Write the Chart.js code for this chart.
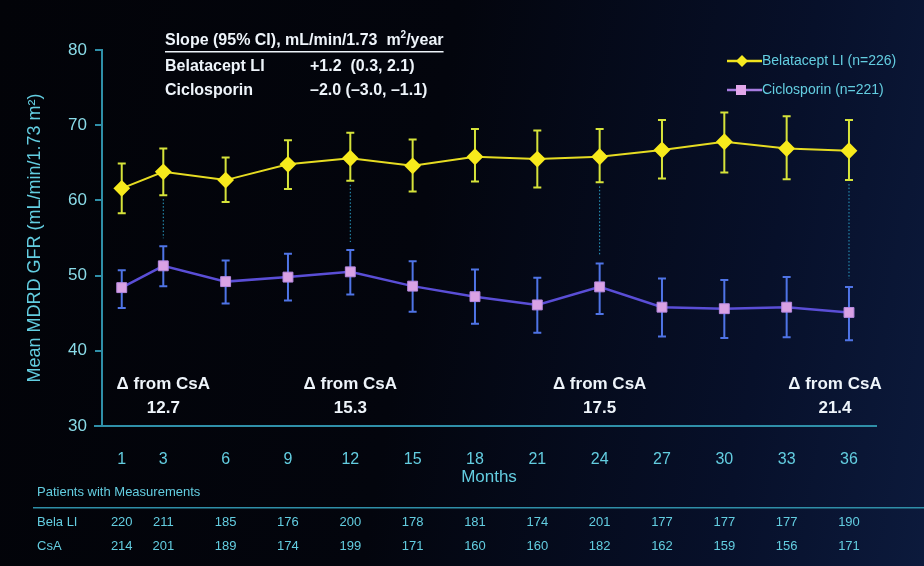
<!DOCTYPE html>
<html>
<head>
<meta charset="utf-8">
<script src="https://cdn.jsdelivr.net/npm/chart.js@4.4.1/dist/chart.umd.min.js"></script>
<style>
  html, body { margin: 0; padding: 0; }
  body {
    width: 924px; height: 566px; overflow: hidden;
    background: linear-gradient(100deg, #020308 0%, #03050d 45%, #07102a 80%, #0c1a3c 100%);
  }
  #wrap { position: relative; width: 924px; height: 566px; }
</style>
</head>
<body>
<div id="wrap"><canvas id="chart" width="924" height="566"></canvas></div>
<script>
// data
const months = [1, 3, 6, 9, 12, 15, 18, 21, 24, 27, 30, 33, 36];
const belaMean = [61.6, 63.8, 62.7, 64.8, 65.6, 64.6, 65.8, 65.5, 65.8, 66.7, 67.8, 66.9, 66.6];
const belaHigh = [64.9, 66.9, 65.7, 68.0, 69.0, 68.1, 69.5, 69.3, 69.5, 70.7, 71.7, 71.2, 70.7];
const belaLow = [58.3, 60.7, 59.8, 61.5, 62.6, 61.2, 62.5, 61.7, 62.4, 62.9, 63.7, 62.8, 62.7];
const csaMean = [48.4, 51.3, 49.2, 49.8, 50.5, 48.6, 47.2, 46.1, 48.5, 45.8, 45.6, 45.8, 45.1];
const csaHigh = [50.7, 53.9, 52.0, 52.9, 53.4, 51.9, 50.8, 49.7, 51.6, 49.6, 49.4, 49.8, 48.5];
const csaLow = [45.7, 48.6, 46.3, 46.7, 47.5, 45.2, 43.6, 42.4, 44.9, 41.9, 41.7, 41.8, 41.4];
const deltaMonths = [3, 12, 24, 36];
const deltaValues = ["12.7", "15.3", "17.5", "21.4"];
const belaPatients = [220, 211, 185, 176, 200, 178, 181, 174, 201, 177, 177, 177, 190];
const csaPatients = [214, 201, 189, 174, 199, 171, 160, 160, 182, 162, 159, 156, 171];
const yTicks = [30, 40, 50, 60, 70, 80];

const teal = "#2f8fa8";
const cyanText = "#63cde0";
const font = "'Liberation Sans', Arial, sans-serif";

function pts(vals) {
  return months.map((m, i) => ({ x: m, y: vals[i] }));
}

// error bars + dotted connectors, drawn under the points
const errorBars = {
  id: "errorBars",
  beforeDatasetsDraw(chart) {
    const ctx = chart.ctx;
    const xs = chart.scales.x, ys = chart.scales.y;
    ctx.save();
    // dotted connectors between the two curves
    ctx.strokeStyle = "#2aa0c8";
    ctx.lineWidth = 1;
    ctx.setLineDash([1.5, 2]);
    deltaMonths.forEach((m) => {
      const i = months.indexOf(m);
      const x = xs.getPixelForValue(m);
      ctx.beginPath();
      ctx.moveTo(x, ys.getPixelForValue(belaLow[i]) + 4);
      ctx.lineTo(x, ys.getPixelForValue(csaHigh[i]) - 8);
      ctx.stroke();
    });
    ctx.setLineDash([]);
    const sets = [
      [belaHigh, belaLow, "#d6e33a"],
      [csaHigh, csaLow, "#4f74e6"],
    ];
    sets.forEach(([hi, lo, col]) => {
      ctx.strokeStyle = col;
      ctx.lineWidth = 2;
      months.forEach((m, i) => {
        const x = xs.getPixelForValue(m);
        const y1 = ys.getPixelForValue(hi[i]);
        const y2 = ys.getPixelForValue(lo[i]);
        ctx.beginPath();
        ctx.moveTo(x, y1); ctx.lineTo(x, y2);
        ctx.moveTo(x - 4, y1); ctx.lineTo(x + 4, y1);
        ctx.moveTo(x - 4, y2); ctx.lineTo(x + 4, y2);
        ctx.stroke();
      });
    });
    ctx.restore();
  },
};

// slide texts: slope box, legend, delta notes, patients table
const slideText = {
  id: "slideText",
  afterDraw(chart) {
    const ctx = chart.ctx;
    const xs = chart.scales.x;
    ctx.save();
    ctx.textBaseline = "middle";

    // x axis line runs a little left of the y axis, as on the slide
    ctx.fillStyle = teal;
    ctx.fillRect(94, chart.chartArea.bottom - 1, 9, 2);

    // slope box
    ctx.fillStyle = "#eef4fa";
    ctx.font = "bold 16px " + font;
    ctx.textAlign = "left";
    const head = "Slope (95% CI), mL/min/1.73  m";
    ctx.fillText(head, 165, 41);
    let w = ctx.measureText(head).width;
    ctx.font = "bold 10px " + font;
    ctx.fillText("2", 165 + w, 35);
    w += ctx.measureText("2").width;
    ctx.font = "bold 16px " + font;
    ctx.fillText("/year", 165 + w, 41);
    w += ctx.measureText("/year").width;
    ctx.fillRect(165, 51, w, 1.5);
    ctx.fillText("Belatacept LI", 165, 67);
    ctx.fillText("+1.2  (0.3, 2.1)", 310, 67);
    ctx.fillText("Ciclosporin", 165, 91);
    ctx.fillText("\u20132.0 (\u20133.0, \u20131.1)", 310, 91);

    // legend
    const leg = [
      ["Belatacept LI (n=226)", "#f0e21e", "#f6ea20", "diamond", 61],
      ["Ciclosporin (n=221)", "#a77ce0", "#e2a8ea", "square", 90],
    ];
    leg.forEach(([label, lineCol, markCol, shape, y]) => {
      ctx.strokeStyle = lineCol;
      ctx.lineWidth = 2.5;
      ctx.beginPath();
      ctx.moveTo(727, y); ctx.lineTo(762, y);
      ctx.stroke();
      ctx.fillStyle = markCol;
      ctx.beginPath();
      if (shape === "diamond") {
        ctx.moveTo(742, y - 6); ctx.lineTo(748, y); ctx.lineTo(742, y + 6); ctx.lineTo(736, y);
      } else {
        ctx.rect(736, y - 5, 10, 10);
      }
      ctx.fill();
      ctx.fillStyle = cyanText;
      ctx.font = "14px " + font;
      ctx.fillText(label, 762, y);
    });

    // delta from CsA notes
    ctx.fillStyle = "#eef4fa";
    ctx.textAlign = "center";
    deltaMonths.forEach((m, i) => {
      let x = xs.getPixelForValue(m);
      if (m === 36) x -= 14;
      ctx.font = "bold 17px " + font;
      ctx.fillText("\u0394 from CsA", x, 384);
      ctx.fillText(deltaValues[i], x, 408);
    });

    // patients with measurements
    ctx.fillStyle = cyanText;
    ctx.textAlign = "left";
    ctx.font = "13px " + font;
    ctx.fillText("Patients with Measurements", 37, 492);
    ctx.fillStyle = teal;
    ctx.fillRect(33, 507, 891, 1.5);
    ctx.fillStyle = cyanText;
    ctx.fillText("Bela LI", 37, 522);
    ctx.fillText("CsA", 37, 546);
    ctx.textAlign = "center";
    months.forEach((m, i) => {
      const x = xs.getPixelForValue(m);
      ctx.fillText(String(belaPatients[i]), x, 522);
      ctx.fillText(String(csaPatients[i]), x, 546);
    });
    ctx.restore();
  },
};

new Chart(document.getElementById("chart"), {
  type: "line",
  data: {
    datasets: [
      {
        label: "Belatacept LI (n=226)",
        data: pts(belaMean),
        borderColor: "#e6dc22",
        borderWidth: 2,
        pointStyle: "rectRot",
        pointRadius: 7,
        pointBackgroundColor: "#f7ea1c",
        pointBorderColor: "#f7ea1c",
        tension: 0,
      },
      {
        label: "Ciclosporin (n=221)",
        data: pts(csaMean),
        borderColor: "#5a4ed6",
        borderWidth: 2.5,
        pointStyle: "rect",
        pointRadius: 7,
        pointBackgroundColor: "#d9a2e4",
        pointBorderColor: "#b88ae0",
        pointBorderWidth: 1,
        tension: 0,
      },
    ],
  },
  options: {
    responsive: false,
    animation: false,
    layout: { padding: { top: 50, right: 48, left: 0, bottom: 0 } },
    plugins: { legend: { display: false }, tooltip: { enabled: false } },
    scales: {
      x: {
        type: "linear",
        min: 0.05,
        max: 37.3,
        afterBuildTicks(scale) {
          scale.ticks = months.map((m) => ({ value: m }));
        },
        afterFit(scale) { scale.height = 140; },
        grid: { display: false },
        border: { display: true, color: teal, width: 2 },
        ticks: {
          color: cyanText,
          font: { family: font, size: 16 },
          padding: 16,
          maxRotation: 0,
          autoSkip: false,
        },
        title: {
          display: true,
          text: "Months",
          color: cyanText,
          font: { family: font, size: 17 },
          padding: { top: 0, bottom: 78 },
        },
      },
      y: {
        min: 30,
        max: 80,
        afterBuildTicks(scale) {
          scale.ticks = yTicks.map((v) => ({ value: v }));
        },
        afterFit(scale) { scale.width = 102; },
        grid: { display: true, drawOnChartArea: false, drawTicks: true, tickLength: 7, color: teal, lineWidth: 2 },
        border: { display: true, color: teal, width: 2 },
        ticks: {
          color: "#8adbe8",
          font: { family: font, size: 17 },
          padding: 8,
        },
        title: {
          display: true,
          text: "Mean MDRD GFR (mL/min/1.73 m\u00b2)",
          color: cyanText,
          font: { family: font, size: 18 },
          padding: { top: 24, bottom: 0 },
        },
      },
    },
  },
  plugins: [errorBars, slideText],
});
</script>
</body>
</html>
